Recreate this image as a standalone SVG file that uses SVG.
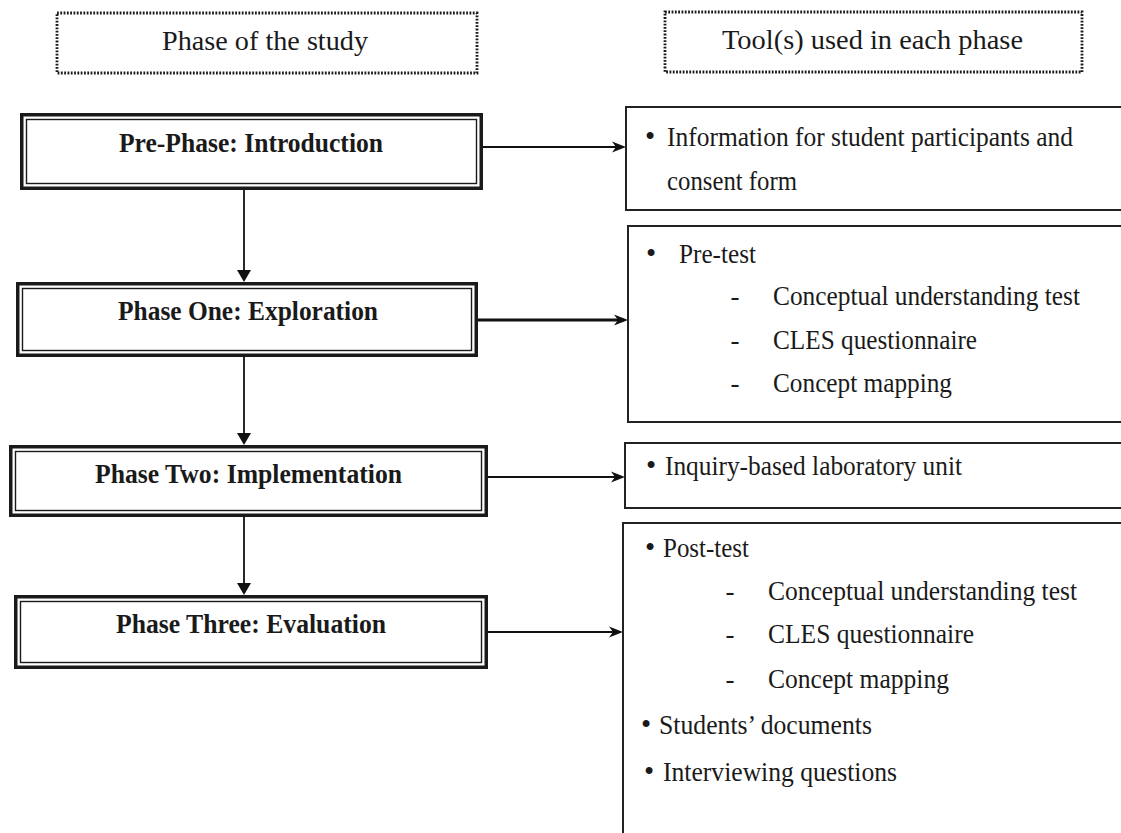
<svg xmlns="http://www.w3.org/2000/svg" width="1121" height="833" viewBox="0 0 1121 833">
<style>
  .bg{fill:#ffffff}
  .hdr{fill:none;stroke:#1a1a1a;stroke-width:2.8;stroke-dasharray:1.8 1.5}
  .outer{fill:#ffffff;stroke:#1a1a1a;stroke-width:3.5}
  .inner{fill:none;stroke:#1a1a1a;stroke-width:1.4}
  .rbox{fill:#ffffff;stroke:#222222;stroke-width:2}
  .conn{fill:none;stroke:#111111;stroke-width:1.8}
  .thick{stroke-width:3}
  text{font-family:"Liberation Serif","Times New Roman",serif;fill:#1a1a1a}
  .h{font-size:28px}
  .b{font-size:28px;font-weight:bold}
  .t{font-size:27px}
  .bul{font-size:29px;text-anchor:middle}
  .dash{font-size:27px;text-anchor:middle}
</style>
<defs>
  <marker id="ah" viewBox="0 0 14 12" markerWidth="14" markerHeight="12" refX="10" refY="6" orient="auto" markerUnits="userSpaceOnUse">
    <path d="M0,0.5 L14,6 L0,11.5 L4,6 Z" fill="#111111"/>
  </marker>
  <marker id="vh" viewBox="0 0 12 14" markerWidth="12" markerHeight="14" refX="8" refY="7" orient="auto" markerUnits="userSpaceOnUse">
    <path d="M0,0 L12,7 L0,14 Z" fill="#111111"/>
  </marker>
</defs>
<rect class="bg" x="0" y="0" width="1121" height="833"/>

<g id="header-phase">
  <rect class="hdr" x="57" y="13" width="420" height="60"/>
  <text class="h" x="162" y="50" textLength="206" lengthAdjust="spacingAndGlyphs">Phase of the study</text>
</g>
<g id="header-tools">
  <rect class="hdr" x="665" y="12" width="417" height="60"/>
  <text class="h" x="722" y="49" textLength="301" lengthAdjust="spacingAndGlyphs">Tool(s) used in each phase</text>
</g>

<g id="connectors">
  <line class="conn" x1="244" y1="190" x2="244" y2="278" marker-end="url(#vh)"/>
  <line class="conn" x1="244" y1="357" x2="244" y2="441" marker-end="url(#vh)"/>
  <line class="conn" x1="244" y1="517" x2="244" y2="591" marker-end="url(#vh)"/>
  <line class="conn" x1="483" y1="147" x2="622" y2="147" marker-end="url(#ah)"/>
  <line class="conn thick" x1="478" y1="320" x2="624" y2="320" marker-end="url(#ah)"/>
  <line class="conn" x1="488" y1="477" x2="621" y2="477" marker-end="url(#ah)"/>
  <line class="conn" x1="488" y1="632" x2="619" y2="632" marker-end="url(#ah)"/>
</g>

<g id="phase-pre">
  <rect class="outer" x="21.75" y="114.75" width="459.5" height="73.5"/>
  <rect class="inner" x="26.5" y="119.5" width="450" height="64"/>
  <text class="b" x="119" y="152" textLength="264" lengthAdjust="spacingAndGlyphs">Pre-Phase: Introduction</text>
</g>
<g id="phase-one">
  <rect class="outer" x="17.75" y="283.75" width="458.5" height="71.5"/>
  <rect class="inner" x="22.5" y="288.5" width="449" height="62"/>
  <text class="b" x="118" y="320" textLength="260" lengthAdjust="spacingAndGlyphs">Phase One: Exploration</text>
</g>
<g id="phase-two">
  <rect class="outer" x="10.75" y="446.75" width="475.5" height="68.5"/>
  <rect class="inner" x="15.5" y="451.5" width="466" height="59"/>
  <text class="b" x="95" y="483" textLength="307" lengthAdjust="spacingAndGlyphs">Phase Two: Implementation</text>
</g>
<g id="phase-three">
  <rect class="outer" x="15.75" y="596.75" width="470.5" height="70.5"/>
  <rect class="inner" x="20.5" y="601.5" width="461" height="61"/>
  <text class="b" x="116" y="633" textLength="270" lengthAdjust="spacingAndGlyphs">Phase Three: Evaluation</text>
</g>

<g id="tools-pre">
  <rect class="rbox" x="626" y="107" width="510" height="103"/>
  <text class="bul" x="650" y="146">•</text>
  <text class="t" x="667" y="146" textLength="406" lengthAdjust="spacingAndGlyphs">Information for student participants and</text>
  <text class="t" x="667" y="190" textLength="130" lengthAdjust="spacingAndGlyphs">consent form</text>
</g>
<g id="tools-one">
  <rect class="rbox" x="628" y="226" width="510" height="196"/>
  <text class="bul" x="651" y="263">•</text>
  <text class="t" x="679" y="263" textLength="77" lengthAdjust="spacingAndGlyphs">Pre-test</text>
  <text class="dash" x="735" y="305">-</text>
  <text class="t" x="773" y="305" textLength="307" lengthAdjust="spacingAndGlyphs">Conceptual understanding test</text>
  <text class="dash" x="735" y="349">-</text>
  <text class="t" x="773" y="349" textLength="204" lengthAdjust="spacingAndGlyphs">CLES questionnaire</text>
  <text class="dash" x="735" y="392">-</text>
  <text class="t" x="773" y="392" textLength="179" lengthAdjust="spacingAndGlyphs">Concept mapping</text>
</g>
<g id="tools-two">
  <rect class="rbox" x="625" y="443" width="510" height="65"/>
  <text class="bul" x="651" y="475">•</text>
  <text class="t" x="665" y="475" textLength="297" lengthAdjust="spacingAndGlyphs">Inquiry-based laboratory unit</text>
</g>
<g id="tools-three">
  <rect class="rbox" x="623" y="523" width="512" height="330"/>
  <text class="bul" x="650" y="557">•</text>
  <text class="t" x="663" y="557" textLength="86" lengthAdjust="spacingAndGlyphs">Post-test</text>
  <text class="dash" x="730" y="600">-</text>
  <text class="t" x="768" y="600" textLength="309" lengthAdjust="spacingAndGlyphs">Conceptual understanding test</text>
  <text class="dash" x="730" y="643">-</text>
  <text class="t" x="768" y="643" textLength="206" lengthAdjust="spacingAndGlyphs">CLES questionnaire</text>
  <text class="dash" x="730" y="688">-</text>
  <text class="t" x="768" y="688" textLength="181" lengthAdjust="spacingAndGlyphs">Concept mapping</text>
  <text class="bul" x="646" y="734">•</text>
  <text class="t" x="659" y="734" textLength="213" lengthAdjust="spacingAndGlyphs">Students’ documents</text>
  <text class="bul" x="649" y="781">•</text>
  <text class="t" x="663" y="781" textLength="234" lengthAdjust="spacingAndGlyphs">Interviewing questions</text>
</g>
</svg>
